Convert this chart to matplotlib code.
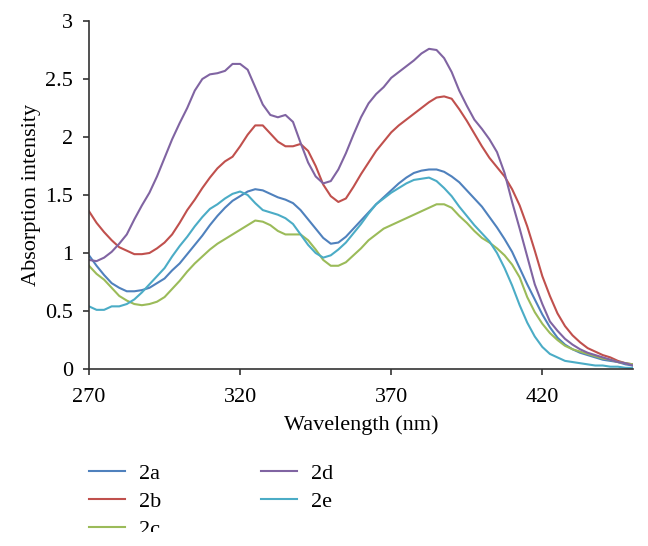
import matplotlib
matplotlib.use("Agg")
import matplotlib.pyplot as plt
from matplotlib.patches import Rectangle

wavelength = [270 + 2.5 * i for i in range(73)]

s2a = [0.98, 0.89, 0.81, 0.74, 0.70, 0.67, 0.67, 0.68, 0.70, 0.74, 0.78, 0.85, 0.91, 0.99,
       1.07, 1.15, 1.24, 1.32, 1.39, 1.45, 1.49, 1.53, 1.55, 1.54, 1.51, 1.48, 1.46, 1.43,
       1.37, 1.29, 1.21, 1.13, 1.08, 1.09, 1.14, 1.21, 1.28, 1.35, 1.42, 1.48, 1.54, 1.60,
       1.65, 1.69, 1.71, 1.72, 1.72, 1.70, 1.66, 1.61, 1.54, 1.47, 1.40, 1.31, 1.22, 1.12,
       1.01, 0.87, 0.73, 0.60, 0.47, 0.36, 0.27, 0.21, 0.17, 0.14, 0.12, 0.10, 0.08, 0.07,
       0.06, 0.04, 0.03]
s2b = [1.36, 1.26, 1.18, 1.11, 1.05, 1.02, 0.99, 0.99, 1.00, 1.04, 1.09, 1.16, 1.26, 1.37,
       1.46, 1.56, 1.65, 1.73, 1.79, 1.83, 1.92, 2.02, 2.10, 2.10, 2.03, 1.96, 1.92, 1.92,
       1.94, 1.88, 1.75, 1.59, 1.49, 1.44, 1.47, 1.57, 1.68, 1.78, 1.88, 1.96, 2.04, 2.10,
       2.15, 2.20, 2.25, 2.30, 2.34, 2.35, 2.33, 2.24, 2.14, 2.03, 1.92, 1.82, 1.74, 1.66,
       1.55, 1.41, 1.23, 1.02, 0.80, 0.63, 0.48, 0.37, 0.29, 0.23, 0.18, 0.15, 0.12, 0.10,
       0.07, 0.05, 0.04]
s2c = [0.89, 0.82, 0.77, 0.70, 0.63, 0.59, 0.56, 0.55, 0.56, 0.58, 0.62, 0.69, 0.76, 0.84,
       0.91, 0.97, 1.03, 1.08, 1.12, 1.16, 1.20, 1.24, 1.28, 1.27, 1.24, 1.19, 1.16, 1.16,
       1.16, 1.11, 1.03, 0.94, 0.89, 0.89, 0.92, 0.98, 1.04, 1.11, 1.16, 1.21, 1.24, 1.27,
       1.30, 1.33, 1.36, 1.39, 1.42, 1.42, 1.39, 1.32, 1.26, 1.19, 1.13, 1.09, 1.04, 0.98,
       0.90, 0.79, 0.62, 0.49, 0.39, 0.31, 0.25, 0.20, 0.17, 0.15, 0.13, 0.11, 0.09, 0.08,
       0.06, 0.05, 0.04]
s2d = [0.94, 0.93, 0.96, 1.01, 1.08, 1.16, 1.29, 1.41, 1.52, 1.66, 1.82, 1.98, 2.12, 2.25,
       2.40, 2.50, 2.54, 2.55, 2.57, 2.63, 2.63, 2.58, 2.43, 2.28, 2.19, 2.17, 2.19, 2.13,
       1.95, 1.78, 1.66, 1.60, 1.62, 1.72, 1.86, 2.02, 2.17, 2.29, 2.37, 2.43, 2.51, 2.56,
       2.61, 2.66, 2.72, 2.76, 2.75, 2.68, 2.56, 2.40, 2.27, 2.15, 2.07, 1.98, 1.87, 1.69,
       1.44, 1.21, 0.97, 0.73, 0.56, 0.41, 0.33, 0.26, 0.21, 0.17, 0.14, 0.12, 0.10, 0.08,
       0.06, 0.05, 0.03]
s2e = [0.54, 0.51, 0.51, 0.54, 0.54, 0.56, 0.60, 0.66, 0.73, 0.80, 0.87, 0.97, 1.06, 1.14,
       1.23, 1.31, 1.38, 1.42, 1.47, 1.51, 1.53, 1.50, 1.43, 1.37, 1.35, 1.33, 1.30, 1.25,
       1.16, 1.07, 1.00, 0.96, 0.98, 1.03, 1.09, 1.17, 1.25, 1.34, 1.42, 1.47, 1.52, 1.56,
       1.60, 1.63, 1.64, 1.65, 1.62, 1.56, 1.49, 1.40, 1.32, 1.24, 1.17, 1.10, 1.00, 0.87,
       0.72, 0.55, 0.40, 0.28, 0.19, 0.13, 0.10, 0.07, 0.06, 0.05, 0.04, 0.03, 0.03, 0.02,
       0.02, 0.01, 0.01]

labels = ["2a", "2b", "2c", "2d", "2e"]
colors = ["#4F81BD", "#C0504D", "#9BBB59", "#8064A2", "#4BACC6"]
series = [s2a, s2b, s2c, s2d, s2e]

xticks = [270, 320, 370, 420]
yticks = [0, 0.5, 1, 1.5, 2, 2.5, 3]
ytick_labels = ["0", "0.5", "1", "1.5", "2", "2.5", "3"]

plt.rcParams["font.family"] = ["Liberation Serif", "DejaVu Serif"]

fig = plt.figure(figsize=(6.48, 5.46), dpi=100)
ax = fig.add_axes([89 / 648, 1 - 369 / 546, (633 - 89) / 648, (369 - 21) / 546])

for y, lab, c in zip(series, labels, colors):
    ax.plot(wavelength, y, color=c, lw=1.5, label=lab)

ax.set_xlim(270, 450)
ax.set_ylim(0, 3)
ax.set_xticks(xticks)
ax.set_yticks(yticks)
ax.set_yticklabels(ytick_labels)
for s in ["top", "right"]:
    ax.spines[s].set_visible(False)
for s in ["left", "bottom"]:
    ax.spines[s].set_color("#333333")
    ax.spines[s].set_linewidth(1.2)
ax.tick_params(direction="out", length=4.5, width=1.2, color="#333333", labelsize=16)
ax.tick_params(axis="x", pad=9.5)
ax.tick_params(axis="y", pad=7)
ax.set_xlabel("Wavelength (nm)", fontsize=16, labelpad=5.5)
ax.set_ylabel("Absorption intensity", fontsize=16, labelpad=3)

handles, labs = ax.get_legend_handles_labels()
fig.legend(handles, labs, ncol=2, loc="upper left",
           bbox_to_anchor=(89 / 648, 1 - 463 / 546), frameon=False, fontsize=16,
           handlelength=1.62, handletextpad=0.63, columnspacing=4.5, labelspacing=0.35,
           borderpad=0, borderaxespad=0)

fig.patches.append(Rectangle((0, 0), 1, 14 / 546, transform=fig.transFigure,
                             facecolor="white", edgecolor="none", zorder=10))

fig.savefig("out.png", dpi=100)
